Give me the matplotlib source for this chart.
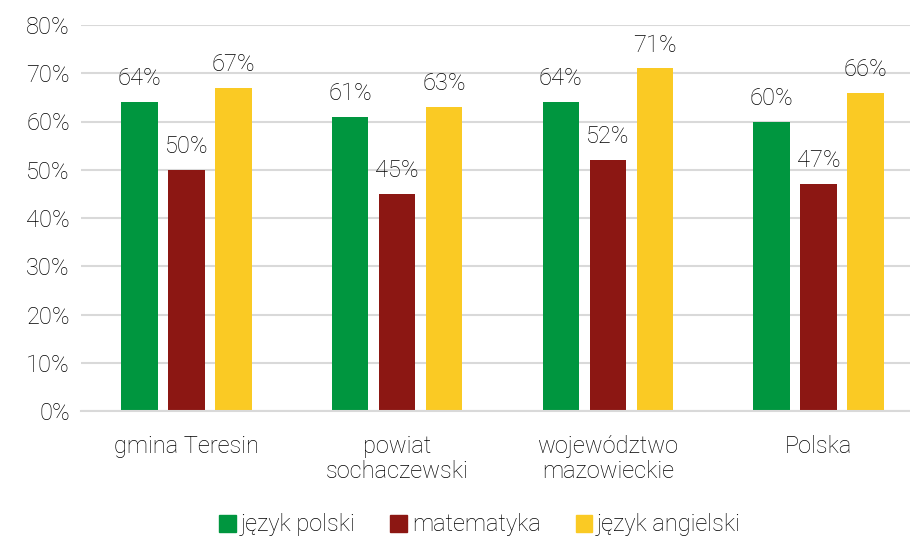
import matplotlib
matplotlib.use("Agg")
import matplotlib.pyplot as plt
import numpy as np
from matplotlib.patches import Patch

categories = ["gmina Teresin", "powiat\nsochaczewski", "województwo\nmazowieckie", "Polska"]
series_names = ["język polski", "matematyka", "język angielski"]
polski = [64, 61, 64, 60]
matematyka = [50, 45, 52, 47]
angielski = [67, 63, 71, 66]
colors = ["#00963F", "#8C1713", "#FACA24"]
yticks = [0, 10, 20, 30, 40, 50, 60, 70, 80]

plt.rcParams['font.family'] = ['Roboto', 'DejaVu Sans']
FS = 17
FW = "light"
fig = plt.figure(figsize=(9.1, 5.38), dpi=100)
ax = fig.add_axes([81 / 910, 1 - 411 / 538, 1 - 81 / 910, (411 - 25) / 538])

x = np.arange(len(categories))
width = 0.173
offset = 0.223
txtcol = "#000000"
for i, (vals, col) in enumerate(zip([polski, matematyka, angielski], colors)):
    bars = ax.bar(x + (i - 1) * offset, vals, width, color=col, zorder=3, label=series_names[i])
    for b, v in zip(bars, vals):
        ax.annotate(f"{v}%", (b.get_x() + b.get_width() / 2, v), xytext=(0, 8.5),
                    textcoords="offset points", ha="center", va="bottom",
                    fontsize=FS, fontweight=FW, color=txtcol)

ax.set_xlim(-0.5, 3.434)
ax.set_ylim(0, 80)
ax.set_yticks(yticks)
ax.set_yticklabels([f"{t}%" for t in yticks], fontsize=FS, fontweight=FW, color=txtcol)
ax.set_xticks(x)
ax.set_xticklabels(categories, fontsize=FS, fontweight=FW, color=txtcol, linespacing=1.15)
ax.tick_params(axis="both", length=0)
ax.tick_params(axis="x", pad=17)
ax.tick_params(axis="y", pad=8)
ax.grid(axis="y", color="#d9d9d9", linewidth=1.5, zorder=0)
for s in ["top", "right", "left"]:
    ax.spines[s].set_visible(False)
ax.spines["bottom"].set_color("#d9d9d9")
ax.spines["bottom"].set_linewidth(1.5)
ax.spines["bottom"].set_zorder(4)

handles = [Patch(color=c) for c in colors]
leg = fig.legend(handles, series_names, loc="center", bbox_to_anchor=(480 / 910, 1 - 525 / 538),
                 ncol=3, frameon=False, handlelength=0.7, handleheight=0.7,
                 handletextpad=0.2, columnspacing=1.5, prop={"size": FS, "weight": FW})
for t in leg.get_texts():
    t.set_color(txtcol)

fig.savefig("out.png", dpi=100)
